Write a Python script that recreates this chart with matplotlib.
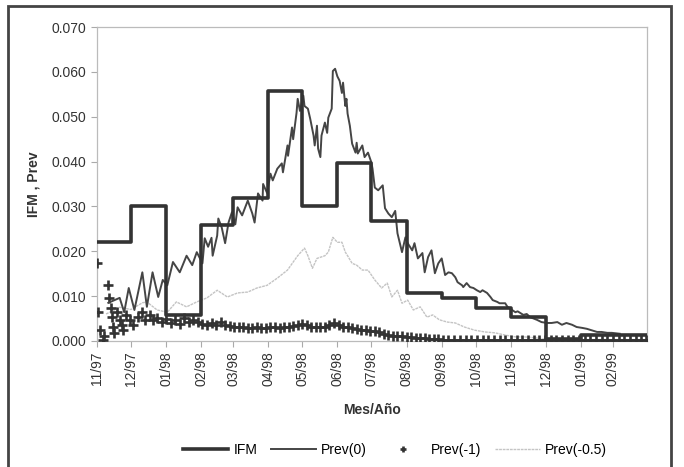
import matplotlib
matplotlib.use("Agg")
import matplotlib.pyplot as plt
from matplotlib.patches import Rectangle

plt.rcParams['font.family'] = ['Liberation Sans', 'DejaVu Sans']

# x axis: days counted from 1 Nov 1997
month_days = [0, 30, 61, 92, 120, 151, 181, 212, 242, 273, 304, 334, 365, 396, 427, 455, 485]
month_labels = ['11/97', '12/97', '01/98', '02/98', '03/98', '04/98', '05/98', '06/98',
                '07/98', '08/98', '09/98', '10/98', '11/98', '12/98', '01/99', '02/99']

# IFM: one value per month
ifm = [0.0220, 0.0300, 0.0057, 0.0258, 0.0318, 0.0558, 0.0300, 0.0397,
       0.0268, 0.0107, 0.0095, 0.0073, 0.0053, 0.0005, 0.0013, 0.0013]

# Prev(0)
prev0_day = [10, 20, 24, 28, 33, 40, 44, 49, 54, 58, 62, 67, 73, 79, 84, 88, 93, 95, 98,
             101, 102, 106, 107, 110, 113, 116, 119, 122, 124, 128, 131, 133, 137, 139,
             142, 146, 146.5, 150, 153, 155, 159, 163, 164, 168, 168.5, 172, 173, 176, 177,
             179, 182, 183, 186, 188, 191, 192, 194, 195, 197, 198, 201, 203, 204, 207, 208,
             210, 212, 214, 216, 217, 219, 220, 221, 223, 225, 228, 229, 230, 234, 236, 239,
             242, 243, 245, 248, 252, 254, 257, 260, 263, 265, 269, 272, 274, 278, 280, 283,
             287, 289, 292, 295, 298, 301, 304, 307, 310, 313, 316, 318, 322, 323, 326, 329,
             332, 335, 338, 340, 344, 347, 349, 353, 355, 360, 362, 366, 369, 371, 376, 379,
             382, 384, 388, 392, 397, 401, 406, 410, 414, 419, 423, 428, 432, 436, 441, 445,
             450, 454, 461]
prev0 = [0.0085, 0.0096, 0.0064, 0.0118, 0.0069, 0.0153, 0.0076, 0.0153, 0.0098, 0.0136,
         0.0124, 0.0176, 0.0153, 0.0190, 0.0169, 0.0198, 0.0173, 0.0229, 0.0210,
         0.0230, 0.0190, 0.0235, 0.0273, 0.0253, 0.0218, 0.0264, 0.0287, 0.0260, 0.0298,
         0.0280, 0.0300, 0.0313, 0.0284, 0.0264, 0.0329, 0.0313, 0.0350, 0.0330, 0.0373,
         0.0358, 0.0384, 0.0396, 0.0376, 0.0436, 0.0413, 0.0476, 0.0450, 0.0509, 0.0540,
         0.0513, 0.0547, 0.0524, 0.0518, 0.0496, 0.0458, 0.0436, 0.0480, 0.0429, 0.0410,
         0.0458, 0.0487, 0.0464, 0.0498, 0.0518, 0.0602, 0.0607, 0.0590, 0.0580, 0.0553,
         0.0576, 0.0524, 0.0540, 0.0507, 0.0480, 0.0440, 0.0420, 0.0442, 0.0418, 0.0436,
         0.0410, 0.0420, 0.0398, 0.0384, 0.0342, 0.0336, 0.0347, 0.0296, 0.0284, 0.0276,
         0.0290, 0.0240, 0.0198, 0.0231, 0.0218, 0.0202, 0.0218, 0.0184, 0.0196, 0.0153,
         0.0187, 0.0202, 0.0151, 0.0173, 0.0184, 0.0147, 0.0153, 0.0151, 0.0142, 0.0131,
         0.0124, 0.0120, 0.0129, 0.0120, 0.0118, 0.0113, 0.0109, 0.0113, 0.0107, 0.0098,
         0.0091, 0.0087, 0.0084, 0.0084, 0.0076, 0.0069, 0.0064, 0.0066, 0.0058, 0.0060,
         0.0053, 0.0051, 0.0047, 0.0042, 0.0040, 0.0040, 0.0042, 0.0036, 0.0040, 0.0036,
         0.0031, 0.0029, 0.0027, 0.0024, 0.0020, 0.0020, 0.0018, 0.0018, 0.0016]

# Prev(-1), drawn with markers only
prev1_day = [0, 1, 3, 5, 6, 10, 11, 12, 13, 14, 15, 18, 20, 22, 23, 26, 29, 32, 36, 40, 42,
             47, 49, 53, 57, 61, 65, 69, 73, 77, 81, 85, 89, 93, 97, 101, 105, 109, 113,
             117, 121, 125, 129, 133, 137, 141, 145, 149, 153, 157, 161, 165, 169, 173, 177,
             181, 185, 189, 193, 197, 201, 205, 209, 213, 217, 221, 225, 229, 233, 237, 241,
             245, 249, 253, 257, 261, 265, 269, 273, 277, 281, 285, 289, 293, 297, 301, 305,
             310, 315, 320, 325, 330, 335, 340, 345, 350, 355, 360, 365, 370, 375, 380, 385,
             390, 395, 400, 405, 410, 415, 420, 425, 430, 435, 440, 445, 450, 455, 460, 465,
             470, 475, 480, 484]
prev1 = [0.0173, 0.0064, 0.0024, 0.0002, 0.0010, 0.0124, 0.0096, 0.0073, 0.0053, 0.0030,
         0.0018, 0.0064, 0.0047, 0.0036, 0.0024, 0.0058, 0.0047, 0.0036, 0.0053, 0.0064,
         0.0047, 0.0058, 0.0047, 0.0050, 0.0042, 0.0048, 0.0040, 0.0046, 0.0038, 0.0051,
         0.0043, 0.0046, 0.0042, 0.0038, 0.0036, 0.0040, 0.0036, 0.0042, 0.0035, 0.0033,
         0.0031, 0.0030, 0.0032, 0.0029, 0.0029, 0.0030, 0.0028, 0.0029, 0.0030, 0.0031,
         0.0029, 0.0031, 0.0030, 0.0033, 0.0035, 0.0038, 0.0036, 0.0032, 0.0030, 0.0031,
         0.0030, 0.0036, 0.0040, 0.0035, 0.0031, 0.0030, 0.0028, 0.0026, 0.0025, 0.0024,
         0.0022, 0.0021, 0.0019, 0.0016, 0.0014, 0.0012, 0.0012, 0.0010, 0.0009, 0.0008,
         0.0007, 0.0007, 0.0006, 0.0005, 0.0004, 0.0004, 0.0003, 0.0003, 0.0003, 0.0003,
         0.0002, 0.0003, 0.0002, 0.0003, 0.0002, 0.0002, 0.0003, 0.0002, 0.0002, 0.0002,
         0.0003, 0.0002, 0.0002, 0.0002, 0.0002, 0.0002, 0.0002, 0.0002, 0.0002, 0.0002,
         0.0002, 0.0002, 0.0002, 0.0002, 0.0002, 0.0002, 0.0002, 0.0002, 0.0002, 0.0002,
         0.0002, 0.0002, 0.0002]

# Prev(-0.5)
prev05_day = [8, 20, 30, 40, 44, 53, 62, 70, 79, 88, 97, 106, 115, 124, 133, 141, 150, 159,
              168, 177, 183, 186, 190, 194, 201, 204, 208, 212, 216, 219, 221, 225, 229, 234,
              239, 245, 251, 256, 260, 265, 269, 274, 279, 285, 291, 296, 302, 309, 316, 324,
              333, 342, 351, 360, 369, 377, 386, 395, 408, 444, 485]
prev05 = [0.0060, 0.0075, 0.0070, 0.0085, 0.0087, 0.0069, 0.0064, 0.0087, 0.0076, 0.0087,
          0.0096, 0.0113, 0.0098, 0.0107, 0.0109, 0.0118, 0.0124, 0.0140, 0.0158, 0.0190,
          0.0207, 0.0190, 0.0162, 0.0184, 0.0190, 0.0198, 0.0231, 0.0220, 0.0220, 0.0198,
          0.0190, 0.0173, 0.0169, 0.0158, 0.0158, 0.0136, 0.0118, 0.0129, 0.0098, 0.0113,
          0.0084, 0.0091, 0.0069, 0.0076, 0.0053, 0.0058, 0.0047, 0.0042, 0.0040, 0.0031,
          0.0024, 0.0020, 0.0018, 0.0013, 0.0009, 0.0009, 0.0007, 0.0004, 0.0003, 0.0002,
          0.0002]

fig = plt.figure(figsize=(6.84, 4.67), dpi=100)
ax = fig.add_axes([0.1418, 0.270, 0.804, 0.672])

ax.plot(prev05_day, prev05, color='#c4c4c4', lw=1.0, ls=(0, (2, 0.6)), label='Prev(-0.5)', zorder=2)
ax.plot(prev1_day, prev1, ls='none', marker='+', ms=7, mew=1.9, color='#333333', label='Prev(-1)', zorder=3)
ax.plot(prev0_day, prev0, color='#454545', lw=1.4, label='Prev(0)', zorder=4)
ax.step(month_days, ifm + [ifm[-1]], where='post', color='#333333', lw=2.6, label='IFM', zorder=5)

ax.set_xlim(0, 485)
ax.set_ylim(0, 0.070)
ax.set_yticks([0.0, 0.01, 0.02, 0.03, 0.04, 0.05, 0.06, 0.07])
ax.set_yticklabels(['%.3f' % v for v in ax.get_yticks()], fontsize=10, color='#333333')
ax.set_xticks(month_days[:-1])
ax.set_xticklabels(month_labels, rotation=90, fontsize=10, color='#333333')
ax.tick_params(axis='both', direction='out', length=4, color='#aaaaaa', width=0.8)
for s in ax.spines.values():
    s.set_color('#bbbbbb')
    s.set_linewidth(0.9)

ax.set_ylabel('IFM , Prev', fontsize=10, fontweight='bold', color='#333333', labelpad=8)
ax.set_xlabel('Mes/Año', fontsize=10, fontweight='bold', color='#333333', labelpad=12)

handles, labels = ax.get_legend_handles_labels()
handles[1].set_markersize(4)
order = [3, 2, 1, 0]
fig.legend([handles[i] for i in order], [labels[i] for i in order], loc='center',
           bbox_to_anchor=(0.578, 0.036), ncol=4, frameon=False, fontsize=10,
           handlelength=3.2, columnspacing=1.0, handletextpad=0.4)
handles[1].set_markersize(7)

# outer chart frame
fig.patches.append(Rectangle((0.0117, -0.05), 0.970, 1.037, transform=fig.transFigure,
                             fill=False, edgecolor='#444444', lw=2.0))

fig.savefig('out.png', dpi=100)
